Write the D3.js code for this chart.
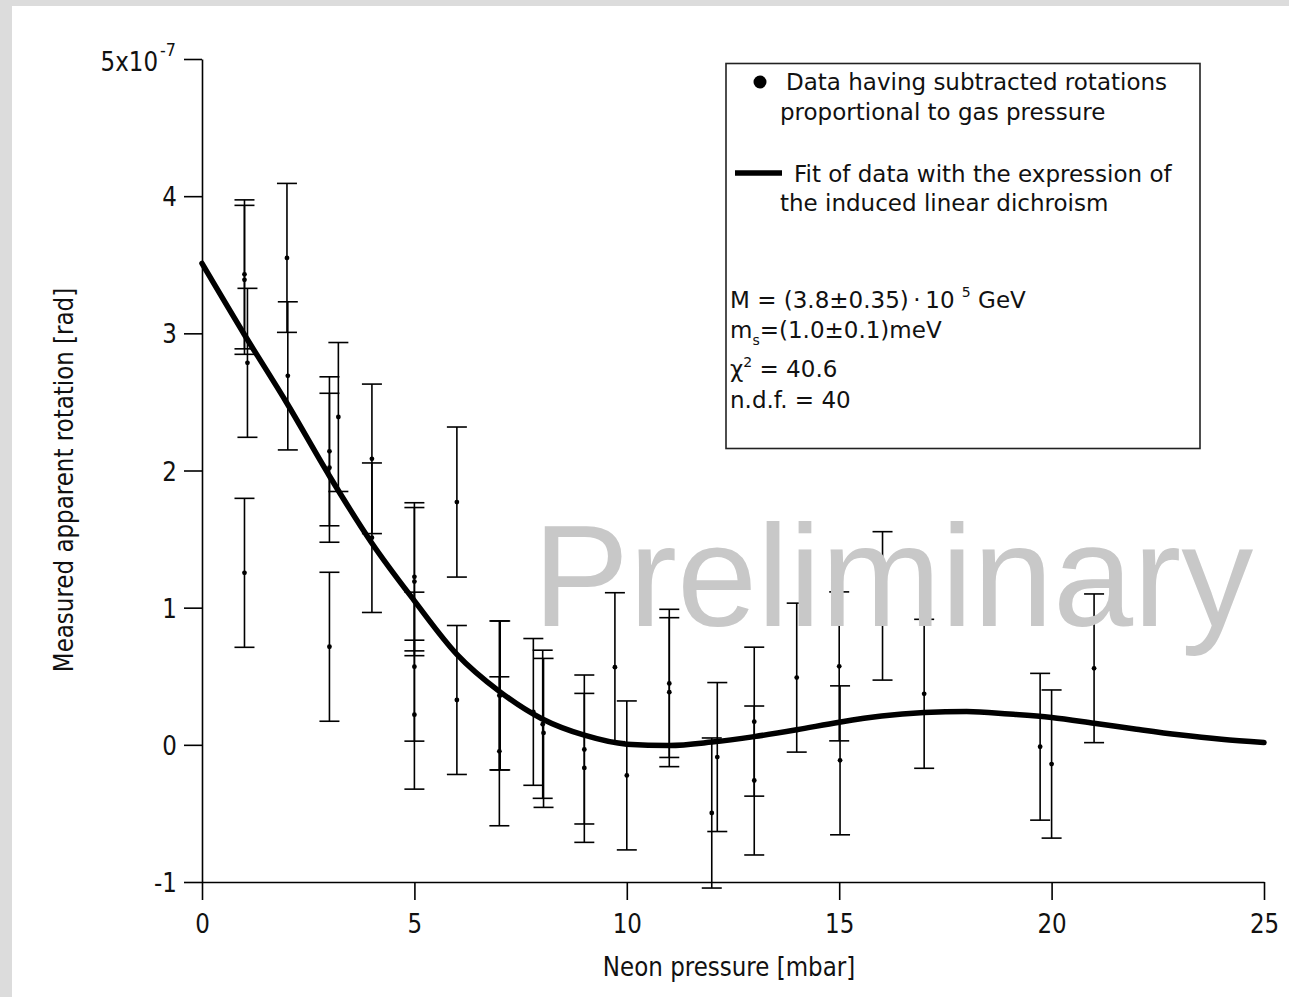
<!DOCTYPE html>
<html>
<head>
<meta charset="utf-8">
<script src="https://cdn.jsdelivr.net/npm/d3@7"></script>
<style>
  html, body { margin: 0; padding: 0; background: #dcdcdc; }
  svg { display: block; }
</style>
</head>
<body>
<script>
// ---- data ----
const pressure = [1.0, 1.0, 1.07, 1.0, 2.0, 2.02, 3.0, 3.0, 3.0, 3.21, 4.0, 4.0,
  5.0, 5.0, 5.0, 5.0, 6.0, 6.0, 7.0, 7.02, 7.0, 7.8, 8.02, 8.04, 9.0, 9.0, 9.72, 10.0,
  11.0, 11.0, 12.0, 12.13, 13.0, 13.0, 14.0, 15.0, 15.02, 16.02, 17.0, 19.73, 20.0, 21.0];
const rotation = [3.43, 3.39, 2.785, 1.254, 3.55, 2.69, 2.14, 2.02, 0.715, 2.39, 2.085, 1.51,
  1.225, 1.19, 0.57, 0.22, 1.77, 0.327, 0.36, 0.36, -0.047, 0.24, 0.15, 0.087, -0.034, -0.168, 0.566, -0.223,
  0.448, 0.384, -0.497, -0.089, 0.169, -0.26, 0.49, 0.572, -0.113, 1.013, 0.372, -0.014, -0.14, 0.558];
const rotationErr = [0.543, 0.543, 0.543, 0.543, 0.543, 0.54, 0.543, 0.543, 0.543, 0.543, 0.545, 0.545,
  0.54, 0.54, 0.543, 0.543, 0.547, 0.543, 0.543, 0.543, 0.543, 0.535, 0.54, 0.543, 0.543, 0.543, 0.543, 0.543,
  0.54, 0.543, 0.547, 0.543, 0.543, 0.543, 0.543, 0.543, 0.543, 0.541, 0.543, 0.535, 0.54, 0.542];

const fitPressure = [0, 1, 2, 3, 4, 5, 6, 7, 8, 9, 10, 11, 12, 13, 14, 15, 16, 17, 18, 19, 20, 21, 22, 23, 24, 25];
const fitRotation = [3.51, 2.99, 2.49, 1.96, 1.47, 1.05, 0.66, 0.39, 0.19, 0.07, 0.005, -0.005, 0.02, 0.06,
  0.11, 0.165, 0.21, 0.235, 0.243, 0.225, 0.2, 0.158, 0.114, 0.073, 0.04, 0.017];

const xTicks = [0, 5, 10, 15, 20, 25];
const yTicks = [-1, 0, 1, 2, 3, 4, 5];
const yTopLabel = "5x10";
const yTopExp = "-7";

const xTitle = "Neon pressure [mbar]";
const yTitle = "Measured apparent rotation [rad]";
const legendData = ["Data having subtracted rotations", "proportional to gas pressure"];
const legendFit = ["Fit of data with the expression of", "the induced linear dichroism"];
const watermark = "Preliminary";

// ---- layout ----
const W = 1289, H = 997;
const svg = d3.select("body").append("svg").attr("width", W).attr("height", H);
svg.append("rect").attr("width", W).attr("height", H).attr("fill", "#dcdcdc");
svg.append("rect").attr("x", 12).attr("y", 6).attr("width", W - 12).attr("height", H - 6).attr("fill", "#fff");

const x = d3.scaleLinear().domain([0, 25]).range([202, 1264]);
const y = d3.scaleLinear().domain([-1, 5]).range([882, 59]);

const FONT = "'DejaVu Sans', sans-serif";
const STRETCH = 1.15;

// axes
const gx = svg.append("g").attr("transform", "translate(0,882)")
  .call(d3.axisBottom(x).tickValues(xTicks).tickSize(18).tickSizeOuter(0).tickFormat(d => String(d)));
const gy = svg.append("g").attr("transform", "translate(202,0)")
  .call(d3.axisLeft(y).tickValues(yTicks).tickSize(18).tickSizeOuter(0)
    .tickFormat(d => d === 5 ? yTopLabel : String(d)));

[gx, gy].forEach(g => {
  g.select(".domain").attr("stroke", "#000").attr("stroke-width", 1.6);
  g.selectAll(".tick line").attr("stroke", "#000").attr("stroke-width", 1.6);
  g.selectAll("text").attr("font-family", FONT).attr("font-size", 23).attr("fill", "#111");
});
gx.selectAll(".tick text").attr("y", 0).attr("dy", null)
  .attr("transform", `translate(0,51) scale(1,${STRETCH})`);
gy.selectAll(".tick text").attr("x", 0).attr("dy", "0.36em")
  .attr("transform", `translate(-25,0) scale(1,${STRETCH})`);
gy.selectAll(".tick text").filter(d => d === 5)
  .attr("transform", `translate(-26,2) scale(1,${STRETCH})`)
  .append("tspan").attr("font-size", 16).attr("dx", 2).attr("dy", "-0.8em").text(yTopExp);

// axis titles
svg.append("text").attr("transform", `translate(729,976) scale(1,${STRETCH})`)
  .attr("text-anchor", "middle").attr("font-family", FONT).attr("font-size", 23).attr("fill", "#111")
  .text(xTitle);
svg.append("text").attr("transform", `translate(73,480) rotate(-90) scale(1,${STRETCH})`)
  .attr("text-anchor", "middle").attr("font-family", FONT).attr("font-size", 23).attr("fill", "#111")
  .text(yTitle);

// data with error bars
const pts = pressure.map((p, i) => ({ p, r: rotation[i], e: rotationErr[i] }));
const eb = svg.append("g").attr("stroke", "#000").attr("stroke-width", 1.6);
const capW = 10;
pts.forEach(d => {
  const cx = x(d.p), y1 = y(d.r + d.e), y2 = y(d.r - d.e);
  eb.append("line").attr("x1", cx).attr("x2", cx).attr("y1", y1).attr("y2", y2);
  eb.append("line").attr("x1", cx - capW).attr("x2", cx + capW).attr("y1", y1).attr("y2", y1);
  eb.append("line").attr("x1", cx - capW).attr("x2", cx + capW).attr("y1", y2).attr("y2", y2);
});
svg.append("g").selectAll("circle").data(pts).join("circle")
  .attr("cx", d => x(d.p)).attr("cy", d => y(d.r)).attr("r", 2.4).attr("fill", "#000");

// watermark (over the data, as in the reference)
svg.append("text").attr("x", 533).attr("y", 626)
  .attr("font-family", "'Liberation Sans', Arial, sans-serif").attr("font-size", 144)
  .attr("fill", "#c8c8c8").text(watermark);

// fit curve
const fit = fitPressure.map((p, i) => [p, fitRotation[i]]);
svg.append("path").datum(fit)
  .attr("d", d3.line().x(d => x(d[0])).y(d => y(d[1])).curve(d3.curveMonotoneX))
  .attr("fill", "none").attr("stroke", "#000").attr("stroke-width", 5.5).attr("stroke-linecap", "round");

// legend box
const lg = svg.append("g").attr("font-family", FONT).attr("font-size", 23).attr("fill", "#111");
lg.append("rect").attr("x", 726).attr("y", 63.5).attr("width", 474).attr("height", 385)
  .attr("fill", "#fff").attr("stroke", "#222").attr("stroke-width", 1.6);
lg.append("circle").attr("cx", 760).attr("cy", 82).attr("r", 6.5).attr("fill", "#000");
lg.append("text").attr("x", 786).attr("y", 90).text(legendData[0]);
lg.append("text").attr("x", 780).attr("y", 120).text(legendData[1]);
lg.append("line").attr("x1", 735).attr("x2", 782).attr("y1", 173).attr("y2", 173)
  .attr("stroke", "#000").attr("stroke-width", 5.5);
lg.append("text").attr("x", 794).attr("y", 182).text(legendFit[0]);
lg.append("text").attr("x", 780).attr("y", 211).text(legendFit[1]);

const t1 = lg.append("text").attr("x", 730).attr("y", 308);
t1.append("tspan").text("M = (3.8±0.35)\u2009·\u200910 ");
t1.append("tspan").attr("font-size", 14).attr("dy", -11).text("5");
t1.append("tspan").attr("dy", 11).text(" GeV");
const t2 = lg.append("text").attr("x", 730).attr("y", 338);
t2.append("tspan").text("m");
t2.append("tspan").attr("font-size", 14).attr("dy", 7).text("s");
t2.append("tspan").attr("dy", -7).text("=(1.0±0.1)meV");
const t3 = lg.append("text").attr("x", 730).attr("y", 377);
t3.append("tspan").text("χ");
t3.append("tspan").attr("font-size", 14).attr("dy", -10).text("2");
t3.append("tspan").attr("dy", 10).text(" = 40.6");
lg.append("text").attr("x", 730).attr("y", 408).text("n.d.f. = 40");
</script>
</body>
</html>
